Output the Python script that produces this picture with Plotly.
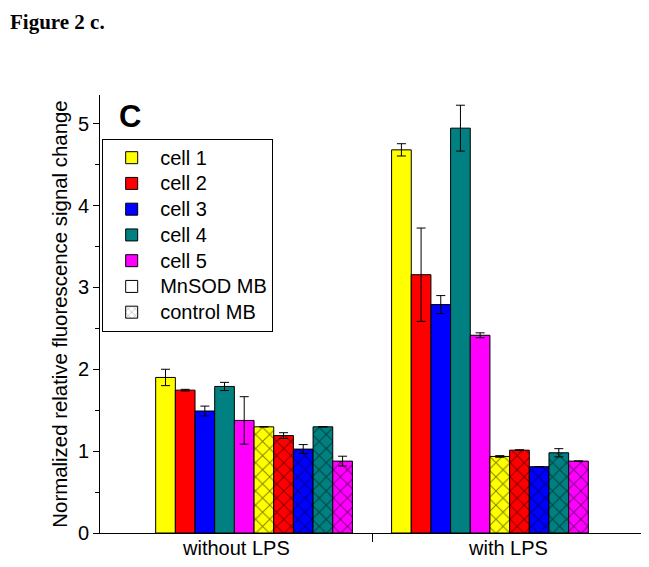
import plotly.graph_objects as go

# values
groups = ["without LPS", "with LPS"]
cells = ["cell 1", "cell 2", "cell 3", "cell 4", "cell 5"]
colors = ["#FFFF00", "#FF0000", "#0000FF", "#008080", "#FF00FF"]

mnsod_without = [1.90, 1.745, 1.49, 1.79, 1.375]
mnsod_with = [4.68, 3.155, 2.79, 4.945, 2.415]
mnsod_err_without = [0.10, 0.01, 0.06, 0.05, 0.29]
mnsod_err_with = [0.075, 0.57, 0.11, 0.28, 0.03]

control_without = [1.297, 1.19, 1.025, 1.297, 0.878]
control_with = [0.935, 1.012, 0.81, 0.98, 0.878]
control_err_without = [0.0, 0.035, 0.055, 0.0, 0.06]
control_err_with = [0.01, 0.005, 0.0, 0.05, 0.0]

FONT = "Arial, Liberation Sans, sans-serif"
x_pos = [0, 1]
x_lo, x_hi = -0.653, 1.653
bw = 0.0834  # bar width in category units
n_bars = 10

fig = go.Figure()


def legend_name(s):
    # bigger text, while item spacing follows the legend font size
    return '<span style="font-size:20px">' + s + '</span>'


def add_bar(i, name, y, err, color, hatched, showlegend):
    fig.add_trace(go.Bar(
        x=x_pos, y=y, name=legend_name(name), showlegend=showlegend,
        width=bw, offset=(i - n_bars / 2) * bw,
        marker=dict(color=color, line=dict(color="black", width=1),
                    pattern=dict(shape="x" if hatched else "", fgcolor="black",
                                 bgcolor=color, size=10, solidity=0.18)),
        error_y=dict(type="data", array=err, color="black", thickness=1, width=4.5),
    ))


for i in range(5):
    add_bar(i, cells[i], [mnsod_without[i], mnsod_with[i]],
            [mnsod_err_without[i], mnsod_err_with[i]], colors[i], False, True)
for i in range(5):
    add_bar(i + 5, cells[i] + " control", [control_without[i], control_with[i]],
            [control_err_without[i], control_err_with[i]], colors[i], True, False)

# legend-only entries
fig.add_trace(go.Bar(x=[None], y=[None], name=legend_name("MnSOD MB"),
                     marker=dict(color="white", line=dict(color="black", width=1))))
fig.add_trace(go.Bar(x=[None], y=[None], name=legend_name("control MB"),
                     marker=dict(color="white", line=dict(color="black", width=1),
                                 pattern=dict(shape="x", fgcolor="black", bgcolor="white",
                                              size=6, solidity=0.15))))

mid = (x_pos[0] + x_pos[1]) / 2
label_x = [(x_lo + mid) / 2, (mid + x_hi) / 2]
for gx, g in zip(label_x, groups):
    fig.add_annotation(x=gx, y=0, xref="x", yref="paper", text=g, showarrow=False,
                       yanchor="top", yshift=-2, font=dict(family=FONT, size=20, color="black"))

fig.add_annotation(x=-0.169, y=1.198, xref="paper", yref="paper", text="<b>Figure 2 c.</b>",
                   showarrow=False, xanchor="left", yanchor="top",
                   font=dict(family="Times New Roman, Liberation Serif, serif", size=21, color="black"))
fig.add_annotation(x=0.055, y=0.952, xref="paper", yref="paper", text="<b>C</b>",
                   showarrow=False, xanchor="center", yanchor="middle",
                   font=dict(family=FONT, size=31, color="black"))

fig.update_layout(
    width=649, height=567,
    margin=dict(l=92, r=13, t=87, b=42),
    plot_bgcolor="white", paper_bgcolor="white",
    barmode="overlay",
    font=dict(family=FONT, size=20, color="black"),
    legend=dict(x=0.004, y=0.9, xanchor="left", yanchor="top",
                bordercolor="black", borderwidth=1, bgcolor="white",
                font=dict(family=FONT, size=17.5), tracegroupgap=0, itemwidth=47),
)
fig.update_xaxes(range=[x_lo, x_hi], tickvals=[mid], ticktext=[""], ticks="outside",
                 ticklen=8, tickcolor="black", showline=True, linecolor="black",
                 showgrid=False, zeroline=False, automargin=False)
fig.update_yaxes(range=[0, 5.35], dtick=1, ticks="outside", ticklen=6, tickcolor="black",
                 minor=dict(dtick=0.5, ticks="outside", ticklen=4, tickcolor="black"),
                 showline=True, linecolor="black", showgrid=False, zeroline=False,
                 automargin=False,
                 title=dict(text="Normalized relative fluorescence signal change",
                            font=dict(family=FONT, size=20.4), standoff=4),
                 tickfont=dict(family=FONT, size=20))

fig.write_html("out.html")
